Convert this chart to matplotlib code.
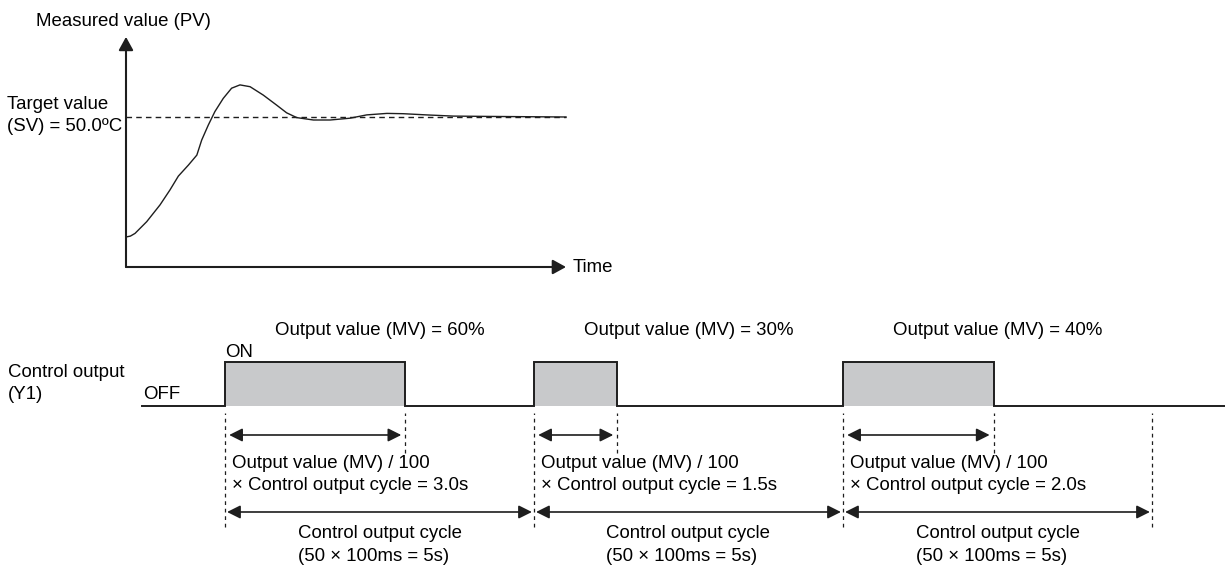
import matplotlib
matplotlib.use('Agg')
import matplotlib.pyplot as plt

plt.rcParams['font.family'] = ['Liberation Sans', 'DejaVu Sans']
plt.rcParams['font.size'] = 13.4

# ---- top chart: measured value (PV) over time (arbitrary time units) ----
pv_time = [0, 1.0, 2.05, 4.7, 7.73, 10.0, 11.9, 14.2, 16.1, 17.2, 18.7, 20.2, 22.1,
           24.0, 25.9, 28.2, 31.2, 34.2, 36.5, 38.8, 42.6, 46.4, 50.9, 54.7,
           59.3, 63.0, 68.3, 74.4, 82.0, 100.0]
pv_value = [10.0, 10.3, 11.2, 15.1, 20.7, 25.7, 30.3, 34.0, 37.3, 42.3, 47.3, 51.8, 56.2,
            59.6, 60.7, 60.1, 57.3, 54.0, 51.4, 49.8, 49.0, 49.0, 49.6, 50.7,
            51.2, 51.1, 50.7, 50.3, 50.2, 50.0]
sv_value = 50.0
time_end = 100.0
pv_axis_top = 76.7

# ---- bottom chart: control output (Y1), seconds ----
cycle_starts = [0, 5, 10]
cycle_len = 5
mv_percent = [60, 30, 40]
on_time_labels = ['3.0s', '1.5s', '2.0s']
drawn_on_width = [2.92, 1.35, 2.44]   # pulse widths as drawn (sketch is not to scale)
off_line = (-1.34, 16.5)

ink = '#1e1e1e'
grey = '#c8c9cb'
dash = (0, (3, 3))
ls_text = 1.45

fig = plt.figure(figsize=(12.25, 5.65), dpi=100)

# top axes: origin at px (126, 267), 4.4 px per time unit, 3 px per degree
top = fig.add_axes([0, 0, 1, 1])
top.set_xlim(-126 / 4.4, (1225 - 126) / 4.4)
top.set_ylim((267 - 565) / 3, 267 / 3)
top.set_axis_off()
top.patch.set_visible(False)

axis_arrow = dict(arrowstyle='-|>,head_length=0.4,head_width=0.22', lw=1.5,
                  color=ink, shrinkA=0, shrinkB=0, mutation_scale=20)
top.annotate('', xy=(0, pv_axis_top), xytext=(0, 0), arrowprops=axis_arrow)
top.annotate('', xy=(time_end, 0), xytext=(0, 0), arrowprops=axis_arrow)
top.plot([0, time_end], [sv_value, sv_value], color=ink, lw=1.0, ls=(0, (4, 3)))
top.plot(pv_time, pv_value, color=ink, lw=1.0, solid_joinstyle='round')

top.text(-20.45, 82, 'Measured value (PV)', ha='left', va='center')
top.text(-27.05, 50.5, 'Target value\n(SV) = 50.0ºC', ha='left', va='center',
         linespacing=ls_text)
top.text(101.6, -0.3, 'Time', ha='left', va='center')

# bottom axes: t=0 at px 225, 61.8 px per second; OFF at px 406, ON 44 px higher
bot = fig.add_axes([0, 0, 1, 1])
bot.set_xlim(-225 / 61.8, 1000 / 61.8)
bot.set_ylim((406 - 565) / 44, 406 / 44)
bot.set_axis_off()
bot.patch.set_visible(False)

bot.bar(cycle_starts, [1] * len(cycle_starts), width=drawn_on_width,
        align='edge', color=grey, lw=0)

xs, ys = [off_line[0]], [0]
for s, w in zip(cycle_starts, drawn_on_width):
    xs += [s, s, s + w, s + w]
    ys += [0, 1, 1, 0]
xs.append(off_line[1])
ys.append(0)
bot.plot(xs, ys, color=ink, lw=1.4, solid_joinstyle='miter')

boundaries = cycle_starts + [cycle_starts[-1] + cycle_len]
bot.vlines(boundaries, -2.75, -0.16, colors=ink, lw=0.9, linestyles=dash)
bot.vlines([s + w for s, w in zip(cycle_starts, drawn_on_width)], -1.07, -0.16,
           colors=ink, lw=0.9, linestyles=dash)

dim_arrow = dict(arrowstyle='<|-|>,head_length=0.4,head_width=0.2', lw=1.2,
                 color=ink, mutation_scale=20)
for s, w, mv, lab in zip(cycle_starts, drawn_on_width, mv_percent, on_time_labels):
    bot.annotate('', xy=(s + w, -0.659), xytext=(s, -0.659),
                 arrowprops=dict(dim_arrow, shrinkA=3, shrinkB=3))
    bot.annotate('', xy=(s + cycle_len, -2.409), xytext=(s, -2.409),
                 arrowprops=dict(dim_arrow, shrinkA=1.5, shrinkB=1.5))
    bot.text(s + cycle_len / 2, 1.727, f'Output value (MV) = {mv}%',
             ha='center', va='center')
    bot.text(s + 0.12, -1.557,
             f'Output value (MV) / 100\n× Control output cycle = {lab}',
             ha='left', va='center', linespacing=ls_text)
    bot.text(s + cycle_len / 2, -3.16, 'Control output cycle\n(50 × 100ms = 5s)',
             ha='center', va='center', multialignment='left', linespacing=ls_text)

bot.text(0.0, 1.227, 'ON', ha='left', va='center')
bot.text(-1.327, 0.27, 'OFF', ha='left', va='center')
bot.text(-3.51, 0.51, 'Control output\n(Y1)', ha='left', va='center',
         linespacing=ls_text)

fig.savefig('out.png', dpi=100)
